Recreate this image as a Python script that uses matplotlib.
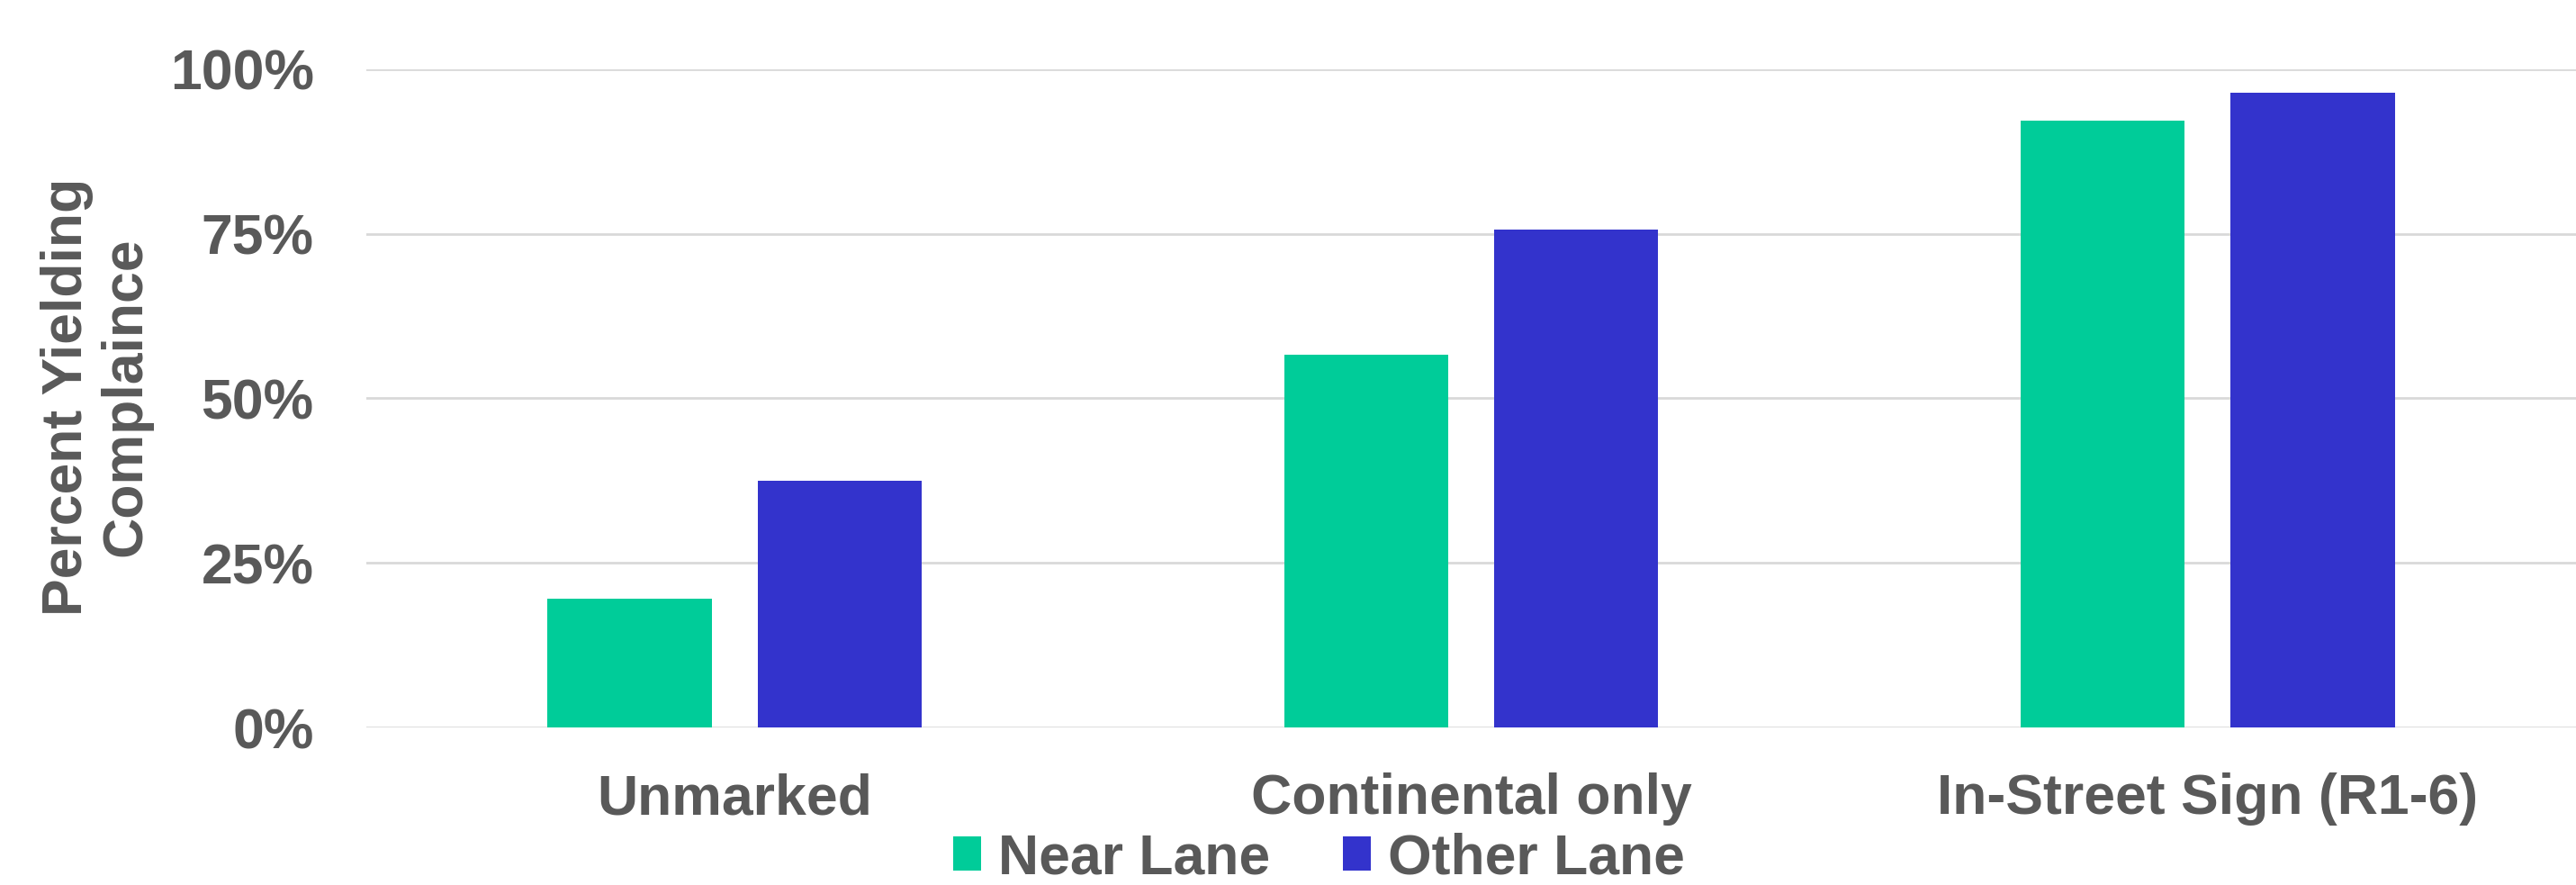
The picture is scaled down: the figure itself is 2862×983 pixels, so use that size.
import matplotlib.pyplot as plt
import numpy as np
from matplotlib.ticker import PercentFormatter

# data
categories = ["Unmarked", "Continental only", "In-Street Sign (R1-6)"]
near_lane = [19.6, 56.6, 92.2]
other_lane = [37.5, 75.6, 96.4]
series_names = ["Near Lane", "Other Lane"]
y_ticks = [0, 25, 50, 75, 100]

green = "#00CC99"
blue = "#3333CC"
grey = "#595959"

plt.rcParams['font.family'] = ['Liberation Sans', 'DejaVu Sans']
plt.rcParams['font.weight'] = 'bold'

fig = plt.figure(figsize=(28.62, 9.83), dpi=100)
ax = fig.add_axes([0.1422, 0.178, 0.8578, 0.744])

x = np.arange(len(categories))
w = 0.223
off = 0.1425
ax.bar(x - off, near_lane, w, color=green, label=series_names[0], zorder=3)
ax.bar(x + off, other_lane, w, color=blue, label=series_names[1], zorder=3)

ax.set_xlim(-0.5, len(categories) - 0.5)
ax.set_ylim(0, 100)
ax.set_yticks(y_ticks)
ax.yaxis.set_major_formatter(PercentFormatter(decimals=0))
ax.set_xticks(x)
ax.set_xticklabels(categories)

ax.grid(axis='y', color='#D9D9D9', linewidth=2, zorder=0)
ax.set_axisbelow(True)
for s in ax.spines.values():
    s.set_visible(False)
ax.tick_params(axis='y', length=0, pad=42, labelsize=45, labelcolor=grey)
ax.tick_params(axis='x', length=0, pad=36, labelsize=45, labelcolor=grey)
for lbl in ax.get_yticklabels() + ax.get_xticklabels():
    lbl.set_fontweight('bold')

fig.text(0.0374, 0.552, "Percent Yielding\nComplaince", rotation=90,
         ha='center', va='center', multialignment='center',
         fontsize=45, fontweight='bold', color=grey, linespacing=1.14)

leg = fig.legend(loc='center', bbox_to_anchor=(0.512, 0.03), ncol=2,
                 frameon=False, fontsize=45, handlelength=0.5, handleheight=0.55,
                 handletextpad=0.3, columnspacing=1.3, borderpad=0)
for t in leg.get_texts():
    t.set_color(grey)
    t.set_fontweight('bold')

fig.savefig("out.png", dpi=100)
